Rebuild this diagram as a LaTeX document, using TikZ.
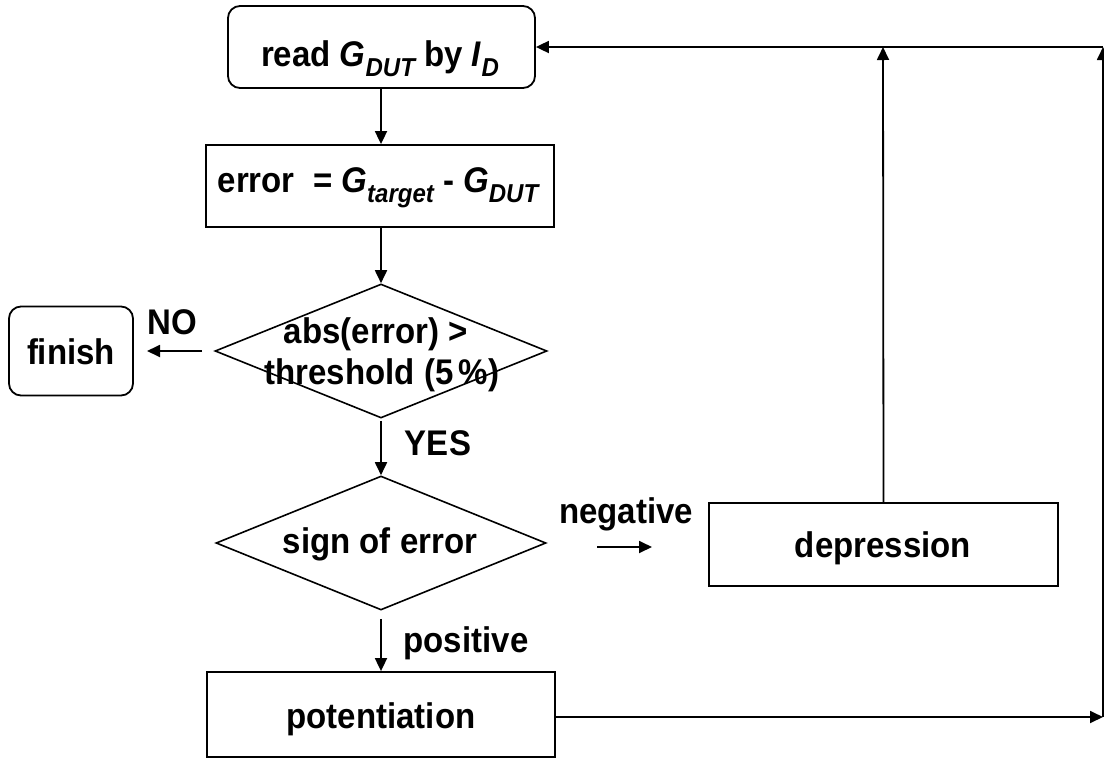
\documentclass[tikz,border=0pt]{standalone}
\usepackage{fontspec}
\setmainfont{Liberation Sans}
\usetikzlibrary{shapes.geometric,arrows.meta}
\newcommand\sbs[1]{\raisebox{-0.3em}{\fontsize{24}{24}\selectfont\itshape #1}}
\newcommand\st[1]{\scalebox{1}[1.08]{#1}}
\begin{document}
\begin{tikzpicture}[x=1pt,y=-1pt,
  every node/.style={font=\fontsize{33}{40}\selectfont\bfseries},
  txt/.style={inner sep=0pt, anchor=base},
  box/.style={draw, line width=1.8pt, inner sep=0pt, rectangle},
  rbox/.style={box, rounded corners=12pt},
  dia/.style={draw, line width=1.6pt, diamond, inner sep=0pt},
  conn/.style={line width=1.8pt, -{Triangle[length=13pt,width=12pt]}}
]
\useasboundingbox (0,0) rectangle (1104,758);
% shapes
\node[rbox, minimum width=307pt, minimum height=82pt] (read) at (381.5,47) {};
\node[box, minimum width=348pt, minimum height=82pt] (err) at (380,186) {};
\node[dia, minimum width=332pt, minimum height=134pt] (d1) at (381,351) {};
\node[dia, minimum width=330pt, minimum height=134pt] (d2) at (381,543) {};
\node[rbox, minimum width=124pt, minimum height=89pt] (fin) at (71,351) {};
\node[box, minimum width=349pt, minimum height=83pt] (dep) at (883.5,544.5) {};
\node[box, minimum width=348pt, minimum height=85pt] (pot) at (381,714.5) {};
% texts
\node[txt] (readt) at (380,66) {\st{read \textit{G}\sbs{DUT} by \textit{I}\sbs{D}}};
\node[txt] (errt) at (378,192) {\st{error\ \ = \textit{G}\sbs{target} - \textit{G}\sbs{DUT}}};
\node[txt] (d1ta) at (376,343) {\st{abs(error) >}};
\node[txt] (d1tb) at (382,384) {\st{threshold (5\,\%)}};
\node[txt] (d2t) at (380,553) {\st{sign of error}};
\node[txt] (fint) at (71,364) {\st{finish}};
\node[txt] (dept) at (883,557) {\st{depression}};
\node[txt] (pott) at (381,728) {\st{potentiation}};
% labels
\node[txt] (no) at (172,334) {\st{NO}};
\node[txt] (yes) at (438,455) {\st{YES}};
\node[txt] (neg) at (626,523) {\st{negative}};
\node[txt] (pos) at (466,652) {\st{positive}};
% helper coordinates
\coordinate (rb) at (1103,717);
\coordinate (rt) at (1103,47);
\coordinate (dt) at (883,47);
\coordinate (na) at (202,351);
\coordinate (nb) at (147,351);
\coordinate (ga) at (597,547);
\coordinate (gb) at (652,547);
% connectors
\draw[conn] (read.south -| 381,0) -- (err.north -| 381,0);
\draw[conn] (err.south -| 381,0) -- (d1.north);
\draw[conn] (na) -- (nb);
\draw[conn, shorten <=2pt] (d1.south) -- (d2.north);
\draw[conn] (ga) -- (gb);
\draw[conn, shorten <=8pt] (d2.south) -- (pot.north);
\draw[conn] (pot.east |- rb) -- (rb);
\draw[conn] (rb) -- (rt);
\draw[conn] (dep.north) -- (dt);
\draw[conn] (rt) -- (read.east);
\end{tikzpicture}
\end{document}
